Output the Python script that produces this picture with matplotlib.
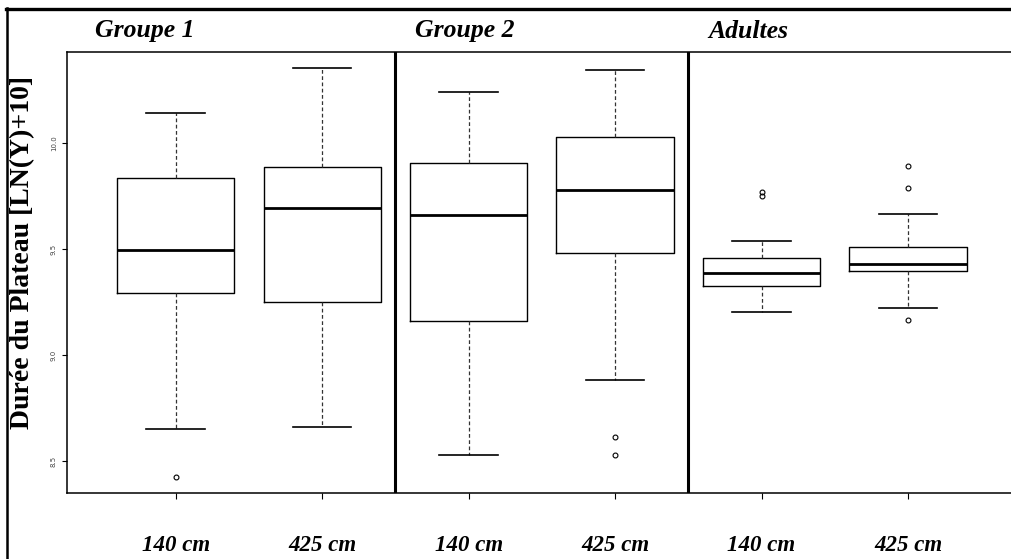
import matplotlib
matplotlib.use("Agg")
import matplotlib.pyplot as plt
from matplotlib.lines import Line2D

# values (log scale, LN(Y)+10)
labels = ["140 cm", "425 cm", "140 cm", "425 cm", "140 cm", "425 cm"]
groups = ["Groupe 1", "Groupe 2", "Adultes"]
whislo = [8.651, 8.660, 8.527, 8.881, 9.201, 9.220]
q1 = [9.292, 9.251, 9.159, 9.480, 9.325, 9.395]
med = [9.495, 9.693, 9.659, 9.780, 9.388, 9.431]
q3 = [9.835, 9.885, 9.904, 10.027, 9.459, 9.511]
whishi = [10.143, 10.352, 10.242, 10.344, 9.539, 9.664]
fliers = [[8.425], [], [], [8.612, 8.527], [9.767, 9.750], [9.892, 9.788, 9.167]]

stats = []
for i in range(len(labels)):
    stats.append({"med": med[i], "q1": q1[i], "q3": q3[i],
                  "whislo": whislo[i], "whishi": whishi[i],
                  "fliers": fliers[i], "label": labels[i]})

fig = plt.figure(figsize=(10.12, 5.59), dpi=100)
ax = fig.add_axes([0.0665, 0.1175, 0.9378, 0.7889])

ax.bxp(stats, positions=range(1, 7), widths=0.8, capwidths=0.4,
       boxprops=dict(color="black", linewidth=1.0),
       medianprops=dict(color="black", linewidth=2.0),
       whiskerprops=dict(color="#333333", linewidth=0.9, linestyle=(0, (3, 2))),
       capprops=dict(color="black", linewidth=1.2),
       flierprops=dict(marker="o", markersize=3.5, markerfacecolor="none",
                       markeredgecolor="black", markeredgewidth=0.8))

# separators between groups
for xs in [2.5, 4.5]:
    ax.axvline(xs, color="black", linewidth=2.2)

ax.set_xlim(0.26, 6.74)
ax.set_ylim(8.348, 10.428)
ax.set_yticks([8.5, 9.0, 9.5, 10.0])
ax.set_yticklabels(["8.5", "9.0", "9.5", "10.0"], rotation=90, va="center",
                   fontsize=5, color="#444444")
ax.set_xticks(range(1, 7))
ax.set_xticklabels(labels, family="Liberation Serif", fontsize=16.5,
                   fontweight="bold", style="italic")
ax.tick_params(axis="x", length=4, pad=26, width=0.8)
ax.tick_params(axis="y", length=3.6, pad=4, width=0.8)
for s in ["left", "bottom", "top"]:
    ax.spines[s].set_linewidth(1.1)
ax.spines["right"].set_visible(False)

ax.set_ylabel("Durée du Plateau [LN(Y)+10]", family="Liberation Serif",
              fontsize=20, fontweight="bold")
ax.yaxis.set_label_coords(-0.034, 0.545)

# group titles
group_x = [95, 415, 708]
for g, gx in zip(groups, group_x):
    fig.text(gx / 1012, 1 - 37.5 / 559, g, family="Liberation Serif",
             fontsize=18.5, fontweight="bold", style="italic", va="baseline")

# outer frame (left and top edges)
fig.add_artist(Line2D([7 / 1012, 7 / 1012], [0, 1 - 8 / 559],
                      transform=fig.transFigure, color="black", linewidth=1.8))
fig.add_artist(Line2D([6 / 1012, 1], [1 - 9 / 559, 1 - 9 / 559],
                      transform=fig.transFigure, color="black", linewidth=2.4))

fig.savefig("out.png", dpi=100)
